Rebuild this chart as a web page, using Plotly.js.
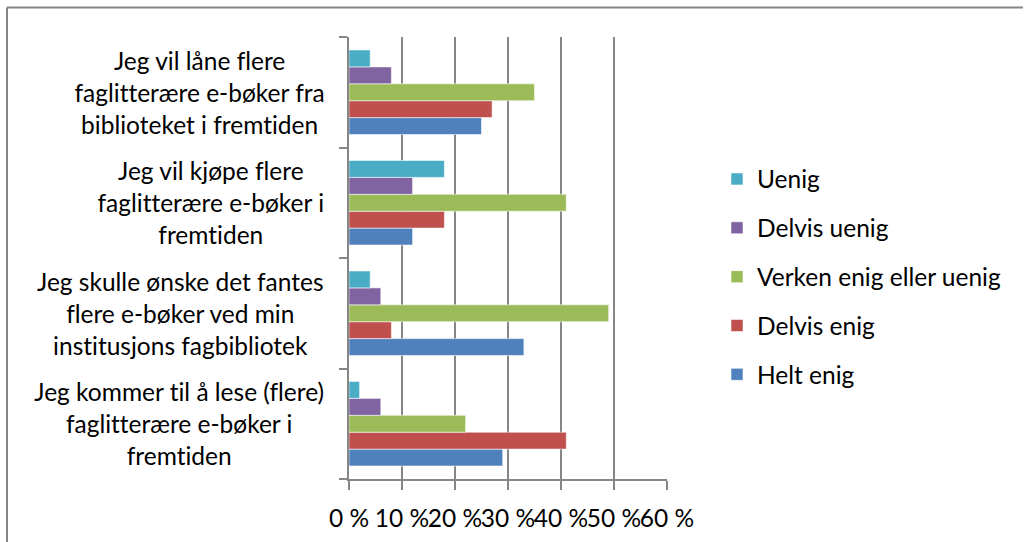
<!DOCTYPE html>
<html>
<head>
<meta charset="utf-8">
<script src="https://cdn.plot.ly/plotly-3.0.1.min.js"></script>
<style>
  html, body { margin: 0; padding: 0; background: #ffffff; }
  #chart { width: 1024px; height: 542px; }
  #chart text { font-variant-ligatures: none; font-feature-settings: "liga" 0, "clig" 0; }
</style>
</head>
<body>
<div id="chart"></div>
<script>
// Categories, bottom to top as drawn
const categories = [
  "Jeg kommer til å lese (flere)<br>faglitterære e-bøker i<br>fremtiden",
  "Jeg skulle ønske det fantes<br>flere e-bøker ved min<br>institusjons fagbibliotek",
  "Jeg vil kjøpe flere<br>faglitterære e-bøker i<br>fremtiden",
  "Jeg vil låne flere<br>faglitterære e-bøker fra<br>biblioteket i fremtiden"
];

// Series values (percent), same order as categories
const heltEnig      = [29, 33, 12, 25];
const delvisEnig    = [41, 8, 18, 27];
const verken        = [22, 49, 41, 35];
const delvisUenig   = [6, 6, 12, 8];
const uenig         = [2, 4, 18, 4];

const seriesNames  = ["Helt enig", "Delvis enig", "Verken enig eller uenig", "Delvis uenig", "Uenig"];
const seriesValues = [heltEnig, delvisEnig, verken, delvisUenig, uenig];
const seriesColors = ["#4F81BD", "#C0504D", "#9BBB59", "#8064A2", "#4BACC6"];

const tickValues = [0, 10, 20, 30, 40, 50, 60];
const tickLabels = ["0 %", "10 %", "20 %", "30 %", "40 %", "50 %", "60 %"];

const FONT = "Lato, 'Open Sans', 'DejaVu Sans', sans-serif";
const FS = 24.5;
const GRID = "#868686";

const traces = seriesNames.map((name, i) => ({
  type: "bar",
  orientation: "h",
  name: name,
  legendgroup: "g" + i,
  legendrank: seriesNames.length - i,
  y: categories,
  x: seriesValues[i],
  marker: { color: seriesColors[i], line: { color: "rgba(255,255,255,0.55)", width: 1 } },
  hoverinfo: "x+name"
}));

// Frame around chart (paper coordinates relative to plot area)
const L = 349, R = 667, T = 37, B = 479;
const px2x = p => (p - L) / (R - L);
const py2y = p => (B - p) / (B - T);

const annotations = categories.map(c => ({
  xref: "paper", yref: "y",
  x: px2x(326), y: c,
  xanchor: "right", yanchor: "middle",
  align: "center",
  text: c,
  showarrow: false,
  font: { family: FONT, size: FS, color: "#000000" }
}));

const layout = {
  width: 1024, height: 542,
  margin: { l: L, r: 1024 - R, t: T, b: 542 - B, pad: 0 },
  paper_bgcolor: "#ffffff",
  plot_bgcolor: "#ffffff",
  barmode: "group",
  bargap: 0.235,
  bargroupgap: 0,
  font: { family: FONT, size: FS, color: "#000000" },
  showlegend: true,
  legend: {
    x: px2x(717), xanchor: "left",
    y: py2y(277), yanchor: "middle",
    traceorder: "grouped",
    tracegroupgap: 14,
    font: { family: FONT, size: FS, color: "#000000" },
    bgcolor: "rgba(0,0,0,0)",
    itemclick: false
  },
  xaxis: {
    range: [0, 60],
    tickvals: tickValues,
    ticktext: tickLabels,
    tickangle: 0,
    ticklabelstandoff: 8,
    showgrid: true,
    gridcolor: GRID,
    gridwidth: 1.5,
    zeroline: false,
    showline: true,
    linecolor: GRID,
    linewidth: 1.5,
    ticks: "outside",
    ticklen: 9,
    tickwidth: 1.5,
    tickcolor: GRID,
    tickfont: { family: FONT, size: FS, color: "#000000" },
    fixedrange: true
  },
  yaxis: {
    type: "category",
    categoryorder: "array",
    categoryarray: categories,
    range: [-0.5, 3.5],
    showticklabels: false,
    showgrid: false,
    zeroline: false,
    showline: true,
    linecolor: GRID,
    linewidth: 1.5,
    ticks: "outside",
    tickson: "boundaries",
    ticklen: 8,
    tickwidth: 1.5,
    tickcolor: GRID,
    fixedrange: true
  },
  annotations: annotations,
  shapes: [
    { type: "line", xref: "paper", yref: "paper",
      x0: px2x(7), x1: px2x(1023), y0: py2y(7.5), y1: py2y(7.5),
      line: { color: GRID, width: 2 } },
    { type: "line", xref: "paper", yref: "paper",
      x0: px2x(7), x1: px2x(7), y0: py2y(7.5), y1: py2y(545),
      line: { color: GRID, width: 2 } }
  ]
};

Plotly.newPlot("chart", traces, layout, { displayModeBar: false });
</script>
</body>
</html>
